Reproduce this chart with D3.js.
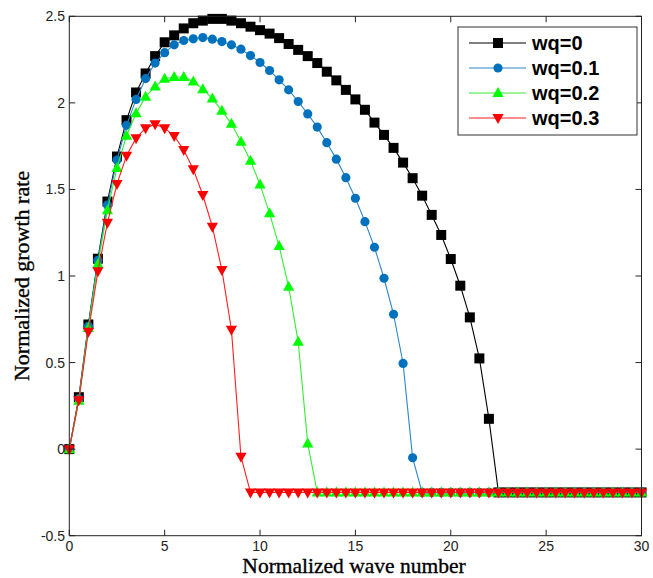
<!DOCTYPE html>
<html>
<head>
<meta charset="utf-8">
<script src="https://cdn.jsdelivr.net/npm/d3@7"></script>
<style>
  html, body { margin: 0; padding: 0; background: #fff; }
  svg { display: block; }
</style>
</head>
<body>
<svg id="chart" width="653" height="578"></svg>
<script>
// ---- data ----
const waveNumber = [0,0.5,1,1.5,2,2.5,3,3.5,4,4.5,5,5.5,6,6.5,7,7.5,8,8.5,9,9.5,10,10.5,11,11.5,12,12.5,13,13.5,14,14.5,15,15.5,16,16.5,17,17.5,18,18.5,19,19.5,20,20.5,21,21.5,22,22.5,23,23.5,24,24.5,25,25.5,26,26.5,27,27.5,28,28.5,29,29.5,30];

const wq0 = [0,0.30,0.72,1.10,1.43,1.69,1.90,2.06,2.17,2.27,2.35,2.39,2.43,2.46,2.475,2.485,2.485,2.475,2.46,2.44,2.42,2.40,2.374,2.34,2.306,2.27,2.23,2.18,2.13,2.075,2.02,1.96,1.886,1.815,1.74,1.655,1.565,1.464,1.353,1.237,1.098,0.944,0.761,0.524,0.175,
  -0.25,-0.25,-0.25,-0.25,-0.25,-0.25,-0.25,-0.25,-0.25,-0.25,-0.25,-0.25,-0.25,-0.25,-0.25,-0.25];

const wq01 = [0,0.29,0.71,1.09,1.41,1.67,1.87,2.02,2.14,2.23,2.29,2.335,2.36,2.37,2.377,2.368,2.354,2.335,2.31,2.273,2.233,2.187,2.133,2.075,2.008,1.936,1.86,1.77,1.675,1.568,1.449,1.314,1.166,0.987,0.779,0.495,-0.05,
  -0.25,-0.25,-0.25,-0.25,-0.25,-0.25,-0.25,-0.25,-0.25,-0.25,-0.25,-0.25,-0.25,-0.25,-0.25,-0.25,-0.25,-0.25,-0.25,-0.25,-0.25,-0.25,-0.25,-0.25];

const wq02 = [0,0.28,0.70,1.07,1.38,1.624,1.81,1.94,2.036,2.094,2.139,2.149,2.149,2.123,2.079,2.025,1.955,1.879,1.776,1.666,1.528,1.362,1.173,0.938,0.62,0.033,
  -0.25,-0.25,-0.25,-0.25,-0.25,-0.25,-0.25,-0.25,-0.25,-0.25,-0.25,-0.25,-0.25,-0.25,-0.25,-0.25,-0.25,-0.25,-0.25,-0.25,-0.25,-0.25,-0.25,-0.25,-0.25,-0.25,-0.25,-0.25,-0.25,-0.25,-0.25,-0.25,-0.25,-0.25,-0.25];

const wq03 = [0,0.283,0.678,1.027,1.308,1.532,1.694,1.796,1.854,1.877,1.854,1.809,1.728,1.617,1.468,1.285,1.035,0.69,-0.044,
  -0.25,-0.25,-0.25,-0.25,-0.25,-0.25,-0.25,-0.25,-0.25,-0.25,-0.25,-0.25,-0.25,-0.25,-0.25,-0.25,-0.25,-0.25,-0.25,-0.25,-0.25,-0.25,-0.25,-0.25,-0.25,-0.25,-0.25,-0.25,-0.25,-0.25,-0.25,-0.25,-0.25,-0.25,-0.25,-0.25,-0.25,-0.25,-0.25,-0.25,-0.25,-0.25,-0.25];

const seriesNames = ["wq=0", "wq=0.1", "wq=0.2", "wq=0.3"];
const xTicks = [0, 5, 10, 15, 20, 25, 30];
const yTicks = [-0.5, 0, 0.5, 1, 1.5, 2, 2.5];
const xTickLabels = ["0", "5", "10", "15", "20", "25", "30"];
const yTickLabels = ["-0.5", "0", "0.5", "1", "1.5", "2", "2.5"];

// ---- layout ----
const L = 69.3, R = 641.5, T = 16.3, B = 535.7;
const svg = d3.select("#chart");
const x = d3.scaleLinear().domain([0, 30]).range([L, R]);
const y = d3.scaleLinear().domain([-0.5, 2.5]).range([B, T]);

const styles = [
  { color: "#000000", line: "#000000", marker: "square" },
  { color: "#0072BD", line: "#2f86c8", marker: "circle" },
  { color: "#00FF00", line: "#33ee33", marker: "triUp" },
  { color: "#FF0000", line: "#ff2020", marker: "triDown" }
];
const allSeries = [wq0, wq01, wq02, wq03];

function markerPath(kind) {
  if (kind === "square") return "M-5,-5H5V5H-5Z";
  if (kind === "circle") return d3.symbol(d3.symbolCircle, 66)();
  if (kind === "triUp") return "M0,-6L5.6,4L-5.6,4Z";
  return "M0,6L5.6,-4L-5.6,-4Z";
}

svg.append("rect").attr("x", L).attr("y", T).attr("width", R - L).attr("height", B - T)
  .attr("fill", "#fff").attr("stroke", "none");

// plot lines + markers
const gPlot = svg.append("g");
allSeries.forEach((vals, i) => {
  const pts = waveNumber.map((w, j) => [w, vals[j]]);
  const line = d3.line().x(d => x(d[0])).y(d => y(d[1]));
  gPlot.append("path").attr("d", line(pts)).attr("fill", "none")
    .attr("stroke", styles[i].line).attr("stroke-width", 1.1);
  gPlot.selectAll(null).data(pts).enter().append("path")
    .attr("d", markerPath(styles[i].marker))
    .attr("transform", d => `translate(${x(d[0])},${y(d[1])})`)
    .attr("fill", styles[i].color);
});

// axes (ticks inward on all four sides)
const axisColor = "#222";
const gAx = svg.append("g");
gAx.append("rect").attr("x", L).attr("y", T).attr("width", R - L).attr("height", B - T)
  .attr("fill", "none").attr("stroke", axisColor).attr("stroke-width", 1);

const tickLen = 6;
xTicks.forEach((t, i) => {
  const px = x(t);
  gAx.append("line").attr("x1", px).attr("x2", px).attr("y1", B).attr("y2", B - tickLen).attr("stroke", axisColor);
  gAx.append("line").attr("x1", px).attr("x2", px).attr("y1", T).attr("y2", T + tickLen).attr("stroke", axisColor);
  gAx.append("text").attr("x", px).attr("y", 551).attr("text-anchor", "middle")
    .attr("font-family", "'Liberation Sans', Arial, sans-serif").attr("font-size", 14)
    .attr("fill", "#222").text(xTickLabels[i]);
});
yTicks.forEach((t, i) => {
  const py = y(t);
  gAx.append("line").attr("x1", L).attr("x2", L + tickLen).attr("y1", py).attr("y2", py).attr("stroke", axisColor);
  gAx.append("line").attr("x1", R).attr("x2", R - tickLen).attr("y1", py).attr("y2", py).attr("stroke", axisColor);
  gAx.append("text").attr("x", 65).attr("y", py + 5).attr("text-anchor", "end")
    .attr("font-family", "'Liberation Sans', Arial, sans-serif").attr("font-size", 14)
    .attr("fill", "#222").text(yTickLabels[i]);
});

// axis titles
svg.append("text").attr("x", 354).attr("y", 573).attr("text-anchor", "middle")
  .attr("font-family", "'Liberation Serif', 'Times New Roman', serif").attr("font-size", 21.5)
  .attr("fill", "#000").attr("stroke", "#000").attr("stroke-width", 0.35)
  .text("Normalized wave number");
svg.append("text").attr("transform", "translate(29,276) rotate(-90)").attr("text-anchor", "middle")
  .attr("font-family", "'Liberation Serif', 'Times New Roman', serif").attr("font-size", 22)
  .attr("fill", "#000").attr("stroke", "#000").attr("stroke-width", 0.35)
  .text("Normalized growth rate");

// legend
const lg = svg.append("g");
lg.append("rect").attr("x", 458).attr("y", 27).attr("width", 179).attr("height", 108)
  .attr("fill", "#fff").attr("stroke", "#333").attr("stroke-width", 1);
seriesNames.forEach((name, i) => {
  const ly = 43 + i * 25;
  lg.append("line").attr("x1", 469).attr("x2", 526).attr("y1", ly).attr("y2", ly)
    .attr("stroke", styles[i].line).attr("stroke-width", 1.1);
  lg.append("path").attr("d", markerPath(styles[i].marker))
    .attr("transform", `translate(498,${ly})`).attr("fill", styles[i].color);
  lg.append("text").attr("x", 532).attr("y", ly + 7)
    .attr("font-family", "'Liberation Sans', Arial, sans-serif").attr("font-size", 20)
    .attr("font-weight", "bold").attr("fill", "#000").text(name);
});
</script>
</body>
</html>
